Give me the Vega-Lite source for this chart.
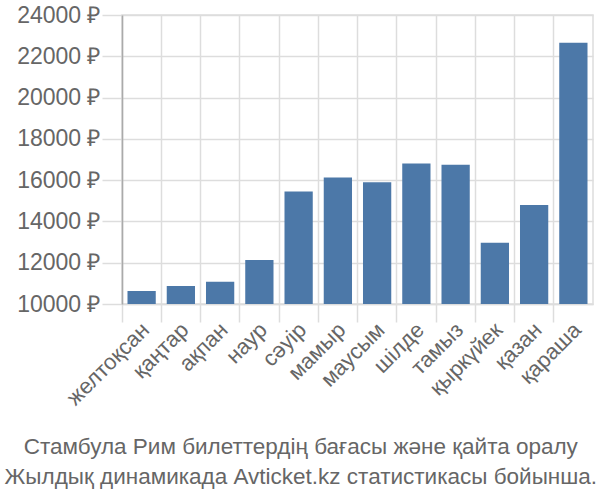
{
  "$schema": "https://vega.github.io/schema/vega-lite/v6.json",
  "width": 471,
  "height": 289,
  "autosize": {"type": "none"},
  "padding": {"left": 122, "top": 15, "right": 7, "bottom": 196},
  "background": "white",
  "config": {
    "font": "Liberation Sans",
    "view": {"stroke": "#dddddd", "strokeWidth": 1.5},
    "axis": {"labelColor": "#666666", "gridColor": "#dddddd", "gridWidth": 1.5, "tickColor": "#dddddd", "tickWidth": 1.5}
  },
  "title": {
    "text": ["Стамбула Рим билеттердің бағасы және қайта оралу", "Жылдық динамикада Avticket.kz статистикасы бойынша."],
    "orient": "bottom",
    "anchor": "middle",
    "frame": "bounds",
    "dx": -4,
    "fontSize": 22.5,
    "fontWeight": "normal",
    "color": "#666666",
    "lineHeight": 30,
    "offset": 27
  },
  "data": {
    "values": [
      {"month": "желтоқсан", "price": 10630},
      {"month": "қаңтар", "price": 10870},
      {"month": "ақпан", "price": 11080},
      {"month": "наур", "price": 12130},
      {"month": "сәуір", "price": 15450},
      {"month": "мамыр", "price": 16130},
      {"month": "маусым", "price": 15900},
      {"month": "шілде", "price": 16810},
      {"month": "тамыз", "price": 16750},
      {"month": "қыркүйек", "price": 12970},
      {"month": "қазан", "price": 14800},
      {"month": "қараша", "price": 22650}
    ]
  },
  "mark": {"type": "bar", "color": "#4c78a8", "width": {"band": 0.72}, "clip": true},
  "encoding": {
    "x": {
      "field": "month",
      "type": "nominal",
      "sort": null,
      "scale": {"paddingInner": 0, "paddingOuter": 0},
      "axis": {
        "title": null,
        "bandPosition": 0,
        "grid": true,
        "labelOffset": 4,
        "labelAngle": -45,
        "labelAlign": "right",
        "labelBaseline": "middle",
        "labelFontSize": 22,
        "labelPadding": 4,
        "tickSize": 18,
        "domainColor": "#dddddd",
        "domainWidth": 1.5
      }
    },
    "y": {
      "field": "price",
      "type": "quantitative",
      "scale": {"domain": [10000, 24000], "nice": false, "zero": false},
      "axis": {
        "title": null,
        "values": [10000, 12000, 14000, 16000, 18000, 20000, 22000, 24000],
        "labelExpr": "datum.value + ' ₽'",
        "labelFontSize": 23,
        "labelPadding": 2,
        "tickSize": 20,
        "domainColor": "#aaaaaa",
        "domainWidth": 1.5
      }
    }
  }
}
